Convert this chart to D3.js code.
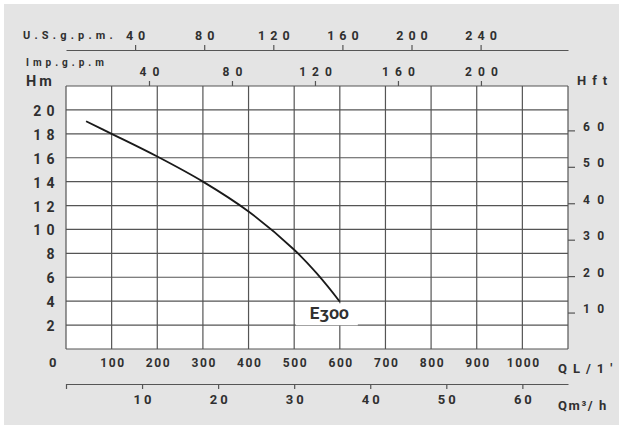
<!DOCTYPE html>
<html><head><meta charset="utf-8">
<script src="https://cdn.jsdelivr.net/npm/d3@7"></script>
<style>
html,body{margin:0;padding:0;background:#fff;}
svg{display:block;}
text{font-family:Roboto,"DejaVu Sans",sans-serif;font-weight:700;fill:#303030;}
</style></head><body>
<svg id="c" width="619" height="428"></svg>
<script>
// ---- data ----
const flowLmin = [44, 100, 200, 300, 400, 500, 550, 600];
const headM    = [19.05, 18.0, 16.1, 14.0, 11.5, 8.3, 6.3, 3.95];
const curveName = "E300";
const lminTicks = [100, 200, 300, 400, 500, 600, 700, 800, 900, 1000];
const hmTicks = [2, 4, 6, 8, 10, 12, 14, 16, 18, 20];
const hftTicks = [10, 20, 30, 40, 50, 60];
const usgpmTicks = [40, 80, 120, 160, 200, 240];
const impgpmTicks = [40, 80, 120, 160, 200];
const m3hTicks = [0, 10, 20, 30, 40, 50, 60];

const svg = d3.select("#c");
const L = 66, R = 568, T = 86, B = 349;
const x = d3.scaleLinear([0, 1100], [L, R]);
const y = d3.scaleLinear([0, 22], [B, T]);
const xUS = d3.scaleLinear([0, 1100 / 3.785412], [L, R]);
const xImp = d3.scaleLinear([0, 1100 / 4.54609], [L, R]);
const xM3 = d3.scaleLinear([0, 1100 * 0.06], [L, R]);
const yFt = d3.scaleLinear([0, 22 / 0.3048], [B, T]);

const lineCol = "#555";
const fmt = d3.format("d");

svg.append("rect").attr("x", 4).attr("y", 4).attr("width", 615).attr("height", 421).attr("fill", "#e4e4e4");
svg.append("rect").attr("x", L).attr("y", T).attr("width", R - L).attr("height", B - T).attr("fill", "#fff");

// grid
const g = svg.append("g").attr("stroke", lineCol).attr("stroke-width", 1.2);
g.selectAll("line.v").data(d3.range(0, 1101, 100)).join("line")
  .attr("x1", d => x(d)).attr("x2", d => x(d)).attr("y1", T).attr("y2", B);
g.selectAll("line.h").data(d3.range(0, 23, 2)).join("line").attr("class", "h")
  .attr("y1", d => y(d)).attr("y2", d => y(d)).attr("x1", L).attr("x2", R);

function styleText(sel, size, ls, anchor) {
  sel.selectAll("text").attr("font-size", size).attr("letter-spacing", ls)
    .attr("font-family", null).attr("fill", "#303030");
  if (anchor === "middle") sel.selectAll("text").attr("dx", ls / 2);
}
function styleAxis(sel) {
  sel.selectAll("line").attr("stroke", lineCol).attr("stroke-width", 1.2);
  sel.select(".domain").attr("stroke", lineCol).attr("stroke-width", 1.2);
  sel.attr("font-family", null);
}

// US gpm axis
const aUS = svg.append("g").attr("transform", `translate(0,50)`)
  .call(d3.axisTop(xUS).tickValues(usgpmTicks).tickFormat(fmt).tickSize(5).tickSizeOuter(0).tickPadding(5));
styleAxis(aUS); styleText(aUS, 12.5, 5, "middle");

// Imp gpm axis
const aImp = svg.append("g").attr("transform", `translate(0,${T})`)
  .call(d3.axisTop(xImp).tickValues(impgpmTicks).tickFormat(fmt).tickSize(5).tickSizeOuter(0).tickPadding(5));
styleAxis(aImp); aImp.select(".domain").remove(); styleText(aImp, 12, 6, "middle");

// L/min axis
const aL = svg.append("g").attr("transform", `translate(0,${B})`)
  .call(d3.axisBottom(x).tickValues(lminTicks).tickFormat(fmt).tickSize(0).tickPadding(0));
aL.select(".domain").remove(); styleAxis(aL); styleText(aL, 12, 1.6, "middle");
aL.selectAll("text").attr("y", 18).attr("dy", 0);

// m3/h axis
const aM = svg.append("g").attr("transform", `translate(0,384)`)
  .call(d3.axisBottom(xM3).tickValues(m3hTicks).tickSize(5).tickSizeOuter(0)
    .tickFormat(d => d === 0 ? "" : fmt(d)));
styleAxis(aM); styleText(aM, 13, 3, "middle");
aM.selectAll("text").attr("y", 20).attr("dy", 0);

// Hm axis
const aH = svg.append("g").attr("transform", `translate(${L},0)`)
  .call(d3.axisLeft(y).tickValues(hmTicks).tickFormat(fmt).tickSize(0).tickPadding(6));
aH.select(".domain").remove(); styleAxis(aH); styleText(aH, 14, 5.4, "end");
aH.selectAll("text").attr("dy", 5.5);

// Hft axis
const aF = svg.append("g").attr("transform", `translate(${R},0)`)
  .call(d3.axisRight(yFt).tickValues(hftTicks).tickFormat(fmt).tickSize(7).tickPadding(8));
aF.select(".domain").remove(); styleAxis(aF); styleText(aF, 12, 7.3, "start");
aF.selectAll("text").attr("dy", 0);

// axis titles
function label(t, xx, yy, size, ls) {
  svg.append("text").attr("x", xx).attr("y", yy).attr("font-size", size)
    .attr("letter-spacing", ls).text(t);
}
label("U.S.g.p.m.", 23, 39, 11, 4.2);
label("Imp.g.p.m", 26, 66, 10, 4);
label("Hm", 26, 86, 14.5, 3);
label("Hft", 577, 84.5, 13, 6);
label("0", 49, 367, 13, 0);
label("QL/1'", 558, 373, 13, 6);
label("Qm³/ h", 558, 410, 13, 1.6);

// curve
const pts = flowLmin.map((q, i) => [q, headM[i]]);
svg.append("path").datum(pts)
  .attr("d", d3.line().x(d => x(d[0])).y(d => y(d[1])).curve(d3.curveCatmullRom))
  .attr("fill", "none").attr("stroke", "#1a1a1a").attr("stroke-width", 1.8);

// curve label
const last = pts[pts.length - 1];
const lx = x(last[0]), ly = y(last[1]);
svg.append("rect").attr("x", lx - 44).attr("y", ly + 1.5).attr("width", 62).attr("height", 22).attr("fill", "#fff");
svg.append("text").attr("x", lx - 30).attr("y", ly + 17)
  .attr("font-family", "Lato, 'Open Sans', sans-serif").attr("font-weight", 400)
  .attr("font-size", 17).style("font-variant-numeric", "oldstyle-nums")
  .attr("fill", "#111").text(curveName);
</script>
</body></html>
